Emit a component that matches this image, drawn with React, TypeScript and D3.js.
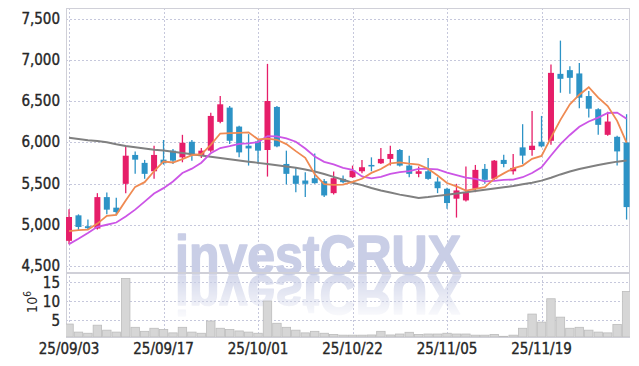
import React from 'react';
import * as d3 from 'd3';

const dates = [
  '25/09/03','25/09/04','25/09/05','25/09/08','25/09/09','25/09/10','25/09/11','25/09/12','25/09/15','25/09/16',
  '25/09/17','25/09/18','25/09/19','25/09/22','25/09/23','25/09/24','25/09/25','25/09/26','25/09/29','25/09/30',
  '25/10/01','25/10/02','25/10/10','25/10/13','25/10/14','25/10/15','25/10/16','25/10/17','25/10/20','25/10/21',
  '25/10/22','25/10/23','25/10/24','25/10/27','25/10/28','25/10/29','25/10/30','25/10/31','25/11/03','25/11/04',
  '25/11/05','25/11/06','25/11/07','25/11/10','25/11/11','25/11/12','25/11/13','25/11/14','25/11/17','25/11/18',
  '25/11/19','25/11/20','25/11/21','25/11/24','25/11/25','25/11/26','25/11/27','25/11/28','25/12/01','25/12/02',
];

const opens = [
  4805, 5114, 4982, 4954, 5335, 5207, 5496, 5846, 5750, 5648,
  5789, 5898, 5817, 6006, 5846, 5898, 6247, 6420, 6190, 5958,
  6010, 5906, 6428, 5737, 5596, 5536, 5564, 5528, 5383, 5556,
  5576, 5648, 5725, 5745, 5798, 5906, 5717, 5617, 5648, 5524,
  5436, 5316, 5295, 5436, 5677, 5557, 5786, 5648, 5938, 5906,
  6006, 6018, 6829, 6874, 6834, 6560, 6400, 6090, 6066, 5998,
];
const highs = [
  5187, 5126, 5063, 5383, 5392, 5328, 5958, 5889, 5786, 5958,
  6027, 5918, 6090, 6027, 5930, 6359, 6560, 6440, 6199, 6099,
  6027, 6950, 6440, 5898, 5689, 5636, 5865, 5556, 5645, 5596,
  5717, 5786, 5817, 5930, 5958, 5918, 5837, 5705, 5810, 5576,
  5448, 5496, 5705, 5725, 5737, 5786, 5850, 5858, 6219, 6380,
  6319, 6942, 7232, 6922, 6962, 6621, 6412, 6371, 6078, 6340,
];
const lows = [
  4765, 4934, 4942, 4942, 5127, 5114, 5383, 5617, 5557, 5557,
  5729, 5737, 5757, 5777, 5810, 5877, 6231, 5978, 5817, 5717,
  5737, 5584, 5938, 5488, 5395, 5335, 5496, 5335, 5367, 5504,
  5568, 5624, 5648, 5737, 5717, 5705, 5576, 5576, 5544, 5383,
  5195, 5087, 5283, 5395, 5496, 5536, 5697, 5608, 5737, 5837,
  5938, 5970, 6600, 6588, 6412, 6299, 6090, 6078, 5717, 5063,
];
const closes = [
  5094, 4973, 4958, 5335, 5183, 5154, 5837, 5789, 5617, 5846,
  5745, 5777, 5994, 5858, 5898, 6319, 6460, 6018, 5877, 5925,
  5898, 6500, 5950, 5617, 5496, 5496, 5504, 5355, 5564, 5516,
  5657, 5697, 5709, 5798, 5858, 5717, 5617, 5648, 5556, 5443,
  5263, 5416, 5388, 5665, 5545, 5777, 5737, 5689, 5838, 5958,
  5950, 6841, 6769, 6781, 6540, 6407, 6211, 6251, 5889, 5214,
];
// volume in millions of shares
const volumes = [
  3.9, 1.8, 1.5, 3.6, 2.3, 1.8, 15.8, 3.05, 2.0, 2.8,
  2.5, 1.6, 3.05, 1.8, 1.5, 4.7, 2.8, 2.5, 2.1, 1.8,
  1.5, 9.9, 4.1, 3.05, 2.3, 1.6, 2.0, 1.5, 1.2, 1.0,
  1.0, 1.0, 1.05, 2.0, 1.05, 1.3, 1.75, 1.2, 1.3, 1.3,
  1.5, 1.3, 1.3, 1.0, 1.0, 1.2, 0.7, 1.0, 2.8, 6.5,
  4.4, 10.5, 5.7, 2.8, 3.05, 2.3, 1.8, 1.6, 3.8, 12.4,
];
// moving-average values before a full window is visible
const ma5Head = [4922, 4934, 4942, 5014];
const ma10Head = [4765, 4830, 4900, 4975, 5000, 5027, 5100, 5183, 5280];
// 60-day moving average (history precedes visible window)
const ma60 = [
  6055, 6040, 6025, 6015, 6000, 5975, 5955, 5940, 5925, 5910,
  5900, 5885, 5870, 5855, 5840, 5825, 5810, 5795, 5780, 5765,
  5750, 5735, 5720, 5705, 5690, 5670, 5645, 5615, 5580, 5545,
  5510, 5480, 5445, 5415, 5390, 5365, 5345, 5325, 5335, 5350,
  5365, 5380, 5395, 5410, 5425, 5440, 5455, 5470, 5490, 5510,
  5535, 5570, 5610, 5645, 5675, 5700, 5725, 5745, 5765, 5780,
];

const priceTicks = [4500, 5000, 5500, 6000, 6500, 7000, 7500];
const volumeTicks = [5, 10, 15];
const dateTickEvery = 10;

const W = 639;
const H = 366;
const L = 66;
const R = 630;
const PT = 8;
const PB = 272;
const VT = 273;
const VB = 337;

const UP = '#e61e69';
const DOWN = '#2d93c6';
const FONT = "'Liberation Sans Narrow', 'DejaVu Sans Condensed', 'Arial Narrow', sans-serif";
const TXT = '#262626';

function movingAvg(period: number, head: number[]): number[] {
  return closes.map((_, i) => {
    if (i < period - 1) return head[i];
    return d3.mean(closes.slice(i - period + 1, i + 1)) as number;
  });
}

export default function App() {
  const x = d3.scaleBand<string>().domain(dates).range([64.3, 631.3]).padding(0);
  const cx = (i: number) => (x(dates[i]) as number) + x.bandwidth() / 2;
  const y = d3.scaleLinear().domain([4500, 7500]).range([266, 18.5]);
  const yv = d3.scaleLinear().domain([0, 15]).range([339, 281.5]);

  const ma5 = movingAvg(5, ma5Head);
  const ma10 = movingAvg(10, ma10Head);

  const line = d3
    .line<number>()
    .x((_, i) => cx(i))
    .y((d) => y(d));

  const bodyW = 6;
  const tickIdx = dates.map((_, i) => i).filter((i) => i % dateTickEvery === 0);
  const wmBase = 274;

  return (
    <svg width={W} height={H} style={{ position: 'absolute', left: 0, top: 0, background: '#fff' }}>
      <defs>
        <clipPath id="pclip">
          <rect x={L} y={PT} width={R - L} height={PB - PT} />
        </clipPath>
        <clipPath id="vclip">
          <rect x={L} y={VT} width={R - L} height={VB - VT} />
        </clipPath>
        <linearGradient id="fade" gradientUnits="userSpaceOnUse" x1="0" y1={wmBase} x2="0" y2={wmBase + 46}>
          <stop offset="0" stopColor="#fff" stopOpacity={0.8} />
          <stop offset="1" stopColor="#fff" stopOpacity={0.05} />
        </linearGradient>
        <mask id="rmask">
          <rect x={0} y={wmBase} width={W} height={60} fill="url(#fade)" />
        </mask>
      </defs>

      {/* grid */}
      <g stroke="#c6c8dc" strokeWidth={1} strokeDasharray="2,2">
        {priceTicks.map((t) => (
          <line key={'hp' + t} x1={L} x2={R} y1={Math.round(y(t)) + 0.5} y2={Math.round(y(t)) + 0.5} />
        ))}
        {volumeTicks.map((t) => (
          <line key={'hv' + t} x1={L} x2={R} y1={Math.round(yv(t)) + 0.5} y2={Math.round(yv(t)) + 0.5} />
        ))}
        {tickIdx.map((i) => (
          <line key={'vg' + i} x1={Math.round(cx(i)) + 0.5} x2={Math.round(cx(i)) + 0.5} y1={PT} y2={VB} />
        ))}
      </g>

      {/* watermark */}
      <g
        fontFamily="'Liberation Sans', Arial, sans-serif"
        fontWeight="bold"
        fontSize={55}
        fill="#c9cee6"
        stroke="#c9cee6"
        strokeWidth={1.6}
        strokeLinejoin="round"
      >
        <text id="wm" x={175} y={wmBase} textLength={286} lengthAdjust="spacingAndGlyphs">investCRUX</text>
        <g mask="url(#rmask)">
          <use href="#wm" transform={`translate(0, ${2 * wmBase + 2}) scale(1,-1)`} />
        </g>
      </g>

      {/* panel borders */}
      <rect x={L + 0.5} y={PT + 0.5} width={R - L - 1} height={PB - PT} fill="none" stroke="#d0d0d8" />
      <rect x={L + 0.5} y={VT + 0.5} width={R - L - 1} height={VB - VT} fill="none" stroke="#d0d0d8" />

      {/* volume */}
      <g clipPath="url(#vclip)">
        {volumes.map((v, i) => (
          <rect
            key={'v' + i}
            x={(x(dates[i]) as number) + 0.5}
            y={yv(v)}
            width={x.bandwidth() - 1}
            height={VB - yv(v)}
            fill="#d6d6d6"
            stroke="#bcbcbc"
            strokeWidth={0.8}
          />
        ))}
      </g>

      {/* candles */}
      <g clipPath="url(#pclip)">
        {dates.map((d, i) => {
          const up = closes[i] >= opens[i];
          const col = up ? UP : DOWN;
          const top = y(Math.max(opens[i], closes[i]));
          const bot = y(Math.min(opens[i], closes[i]));
          return (
            <g key={'c' + i}>
              <line x1={cx(i)} x2={cx(i)} y1={y(highs[i])} y2={y(lows[i])} stroke={col} strokeWidth={1.3} />
              <rect x={cx(i) - bodyW / 2} y={top} width={bodyW} height={Math.max(1.5, bot - top)} fill={col} />
            </g>
          );
        })}
        <path d={line(ma60) || ''} fill="none" stroke="#808080" strokeWidth={2} />
        <path d={line(ma10) || ''} fill="none" stroke="#cc55e6" strokeWidth={1.8} />
        <path d={line(ma5) || ''} fill="none" stroke="#ef8a52" strokeWidth={1.8} />
      </g>

      {/* price axis labels */}
      <g fontFamily={FONT} fontSize={15} fill={TXT} stroke={TXT} strokeWidth={0.35} textAnchor="end">
        {priceTicks.map((t) => (
          <text key={'pt' + t} x={60} y={y(t)} dominantBaseline="central">
            {d3.format(',')(t)}
          </text>
        ))}
        {volumeTicks.map((t) => (
          <text key={'vt' + t} x={60} y={yv(t) + 1} dominantBaseline="central">
            {t}
          </text>
        ))}
      </g>
      <text
        fontFamily={FONT}
        fontSize={14}
        fill={TXT}
        textAnchor="middle"
        transform="translate(37,302) rotate(-90)"
      >
        10
        <tspan dy={-6} fontSize={10}>6</tspan>
      </text>

      {/* date labels */}
      <g fontFamily={FONT} fontSize={15} fill={TXT} stroke={TXT} strokeWidth={0.35} textAnchor="middle">
        {tickIdx.map((i) => (
          <text key={'dt' + i} x={cx(i)} y={349} dominantBaseline="central">
            {dates[i]}
          </text>
        ))}
      </g>
    </svg>
  );
}
